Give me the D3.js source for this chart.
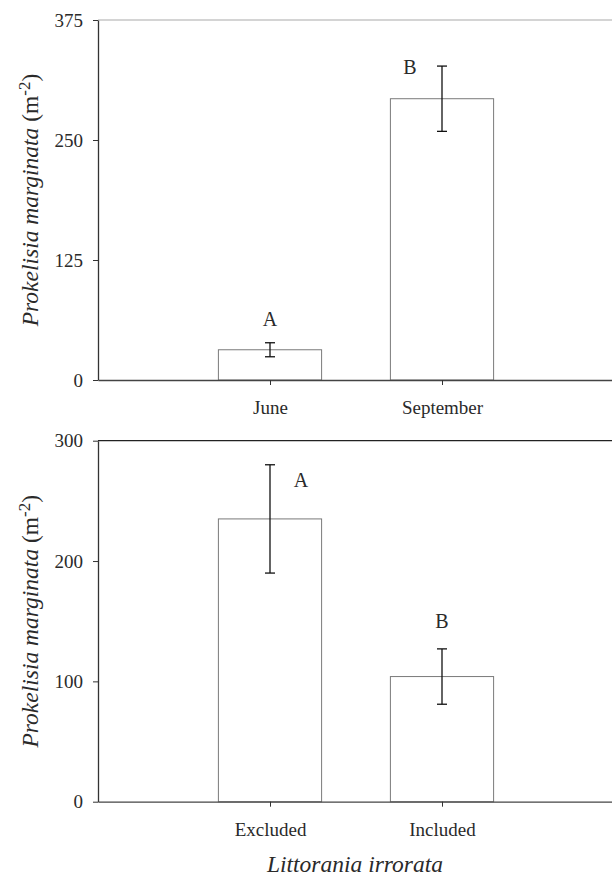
<!DOCTYPE html>
<html>
<head>
<meta charset="utf-8">
<script src="https://cdn.jsdelivr.net/npm/d3@7"></script>
<style>
  body { margin: 0; background: #fff; }
  text { font-family: "Liberation Serif", "Times New Roman", serif; fill: #2a2a2a; }
</style>
</head>
<body>
<svg id="chart"></svg>
<script>
// top panel: sampling month
let months = ["June", "September"];
let monthMeans = [31.5, 293];
let monthErr = [7.3, 34];
let monthLetters = ["A", "B"];
let monthTicks = [0, 125, 250, 375];

// bottom panel: snail treatment
let treatments = ["Excluded", "Included"];
let treatMeans = [235, 104];
let treatErr = [45, 23];
let treatLetters = ["A", "B"];
let treatTicks = [0, 100, 200, 300];

let W = 612, H = 876;
let fontSize = 19;

let svg = d3.select("#chart")
    .attr("width", W)
    .attr("height", H);

function drawPanel(opts) {
    let g = svg.append("g");

    let x = d3.scaleLinear()
        .domain([0, 3])
        .range([98, 614]);
    let y = d3.scaleLinear()
        .domain([0, opts.ticks[opts.ticks.length - 1]])
        .range([opts.bottom, opts.top]);
    let barW = (x(1) - x(0)) * 0.6;

    // frame top line
    g.append("line")
        .attr("x1", x(0)).attr("x2", W)
        .attr("y1", y.range()[1]).attr("y2", y.range()[1])
        .attr("stroke", opts.topColor)
        .attr("stroke-width", 1.2);

    // bars
    g.selectAll(".bar")
        .data(opts.means)
        .enter()
        .append("rect")
        .attr("x", function (d, i) { return x(i + 1) - barW / 2 })
        .attr("y", function (d) { return y(d) })
        .attr("width", barW)
        .attr("height", function (d) { return y(0) - y(d) })
        .attr("fill", "none")
        .attr("stroke", "#7a7a7a")
        .attr("stroke-width", 1);

    // error bars
    let cap = 5;
    opts.means.forEach(function (m, i) {
        let cx = x(i + 1);
        let lo = y(m - opts.err[i]), hi = y(m + opts.err[i]);
        g.append("line")
            .attr("x1", cx).attr("x2", cx)
            .attr("y1", lo).attr("y2", hi)
            .attr("stroke", "#111").attr("stroke-width", 1.3);
        [lo, hi].forEach(function (yy) {
            g.append("line")
                .attr("x1", cx - cap).attr("x2", cx + cap)
                .attr("y1", yy).attr("y2", yy)
                .attr("stroke", "#111").attr("stroke-width", 1.3);
        });
    });

    // significance letters
    opts.letters.forEach(function (l, i) {
        let off = opts.letterOff[i];
        g.append("text")
            .attr("x", x(i + 1) + off[0])
            .attr("y", y(opts.means[i] + opts.err[i]) + off[1])
            .attr("text-anchor", "middle")
            .style("font-size", "20px")
            .text(l);
    });

    // y axis
    let yAxis = g.append("g")
        .attr("transform", "translate(" + x(0) + ",0)")
        .call(d3.axisLeft(y).tickValues(opts.ticks).tickSize(5).tickPadding(10).tickSizeOuter(0));
    yAxis.select(".domain").attr("stroke", "#333").attr("stroke-width", 1.3);
    yAxis.selectAll(".tick line").attr("stroke", "#333");
    yAxis.selectAll("text")
        .style("font-size", fontSize + "px")
        .style("font-family", "Liberation Serif, serif")
        .attr("fill", "#2a2a2a");

    // x axis
    let xAxis = g.append("g")
        .attr("transform", "translate(0," + y(0) + ")")
        .call(d3.axisBottom(x).tickValues([1, 2])
            .tickFormat(function (d) { return opts.cats[d - 1] })
            .tickSize(5).tickPadding(16).tickSizeOuter(0));
    xAxis.select(".domain").attr("stroke", "#444").attr("stroke-width", 1.3);
    xAxis.selectAll(".tick line").attr("stroke", "#333");
    xAxis.selectAll("text")
        .style("font-size", fontSize + "px")
        .style("font-family", "Liberation Serif, serif")
        .attr("fill", "#2a2a2a");

    // y title
    let midY = (opts.top + opts.bottom) / 2;
    let t = g.append("text")
        .attr("transform", "translate(38," + midY + ") rotate(-90)")
        .attr("text-anchor", "middle")
        .style("font-size", "23.5px");
    t.append("tspan").style("font-style", "italic").text("Prokelisia marginata");
    t.append("tspan").text(" (m");
    t.append("tspan").attr("dy", "-0.45em").style("font-size", "17px").text("-2");
    t.append("tspan").attr("dy", "0.33em").text(")");

    return x;
}

drawPanel({
    cats: months, means: monthMeans, err: monthErr, letters: monthLetters,
    ticks: monthTicks, top: 20, bottom: 380, topColor: "#aaa",
    letterOff: [[0, -17], [-32, 8]]
});

drawPanel({
    cats: treatments, means: treatMeans, err: treatErr, letters: treatLetters,
    ticks: treatTicks, top: 440.7, bottom: 801.7, topColor: "#222",
    letterOff: [[31, 22], [0, -21]]
});

svg.append("text")
    .attr("x", (98 + 612) / 2)
    .attr("y", 872)
    .attr("text-anchor", "middle")
    .style("font-size", "23.5px")
    .style("font-style", "italic")
    .text("Littorania irrorata");
</script>
</body>
</html>
